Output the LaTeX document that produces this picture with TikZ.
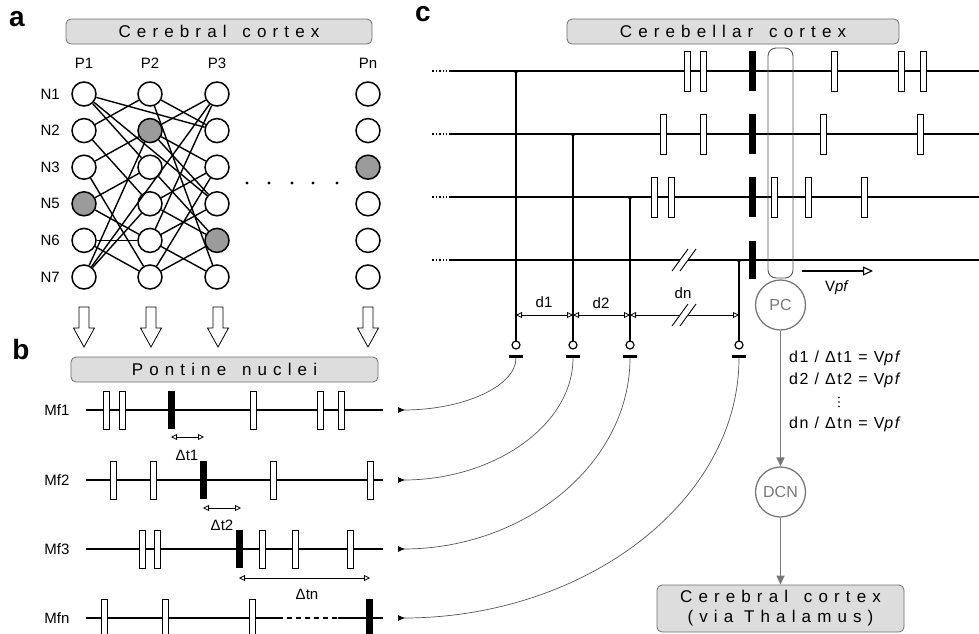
\documentclass[tikz,border=0pt]{standalone}
\usepackage{fontspec}
\setmainfont{Liberation Sans}
\newfontfamily\spacedfont[LetterSpace=36]{Liberation Sans}
\newfontfamily\eqfont[LetterSpace=10]{Liberation Sans}
\usetikzlibrary{shapes,arrows,arrows.meta,positioning,calc}
\definecolor{BoxGray}{RGB}{221,221,221}
\definecolor{EdgeGray}{RGB}{110,110,110}
\definecolor{CellGray}{RGB}{155,155,155}
\definecolor{OutGray}{RGB}{120,120,120}
\definecolor{FibreGray}{RGB}{85,85,85}

\tikzset{
  neuron/.style={circle, draw, line width=1.5pt, minimum size=24pt, inner sep=0pt, fill=white},
  active/.style={neuron, fill=CellGray},
  wire/.style={line width=1.4pt},
  areabox/.style={draw=EdgeGray, fill=BoxGray, rounded corners=5pt, line width=0.8pt,
    inner sep=0pt, font=\spacedfont\fontsize{17}{20}\selectfont},
  cellnode/.style={circle, draw=OutGray, text=OutGray, line width=1.3pt, minimum size=50pt,
    inner sep=0pt, font=\fontsize{16}{18}\selectfont},
  panel/.style={font=\bfseries\fontsize{28}{30}\selectfont},
  lab/.style={font=\fontsize{15}{18}\selectfont},
  eq/.style={font=\eqfont\fontsize{16}{18}\selectfont, inner sep=0pt},
  train/.style={line width=1.1pt},
  pf/.style={line width=1.4pt},
  gap/.style={{Triangle[open,length=6pt,width=6pt]}-{Triangle[open,length=6pt,width=6pt]}, line width=0.8pt},
  mossy/.style={draw=FibreGray, line width=0.7pt, {Latex[reversed,length=7pt,width=6pt,fill=black,color=black]}-},
  outflow/.style={draw=OutGray, line width=1.5pt, -{Triangle[length=9pt,width=8pt]}}
}

% spike rasters: y, half height, list of x
\newcommand{\spiketrain}[3]{%
  \foreach \sx in {#3} \draw[fill=white, line width=0.9pt] (\sx-3,#1-#2) rectangle (\sx+3,#1+#2);}
% burst: y, half height, x
\newcommand{\burst}[3]{\fill (#3-3.5,#1-#2) rectangle (#3+3.5,#1+#2);}
% broken line mark
\newcommand{\fiberbreak}[2]{%
  \fill[white] (#1-4,#2-2) rectangle (#1+4,#2+2);
  \draw[line width=0.9pt] (#1-12,#2+11) -- (#1+4,#2-11);
  \draw[line width=0.9pt] (#1-4,#2+11) -- (#1+12,#2-11);}

\begin{document}
\begin{tikzpicture}[x=1pt, y=-1pt]
  \clip (0,0) rectangle (979,633);

  % Panel letters
  \node[panel] (la) at (17,19) {a};
  \node[panel] (lb) at (21,349) {b};
  \node[panel] (lc) at (423,14) {c};

  %% (a) cerebral cortex
  \node[areabox, minimum width=306pt, minimum height=25pt] (cortex) at (219,31.5) {Cerebral\hspace{5pt} cortex};

  \foreach \c/\cx/\hot in {1/84/4, 2/150/2, 3/217/5, n/368/3} {
    \node[lab] (p\c) at (\cx,63) {P\c};
    \foreach \r/\ry in {1/94, 2/130.6, 3/167.2, 4/203.8, 5/240.4, 6/277} {
      \ifnum\r=\hot \def\kind{active}\else\def\kind{neuron}\fi
      \node[\kind] (p\c n\r) at (\cx,\ry) {};
    }
  }
  \foreach \r/\nm in {1/N1, 2/N2, 3/N3, 4/N5, 5/N6, 6/N7}
    \node[lab, left=8pt of p1n\r] (row\r) {\nm};

  % Connections
  \foreach \u/\v in {p1n1/p2n3, p1n2/p2n1, p1n2/p2n4, p1n3/p2n2, p1n3/p2n6, p1n4/p2n3,
      p1n4/p2n5, p1n5/p2n5, p1n5/p2n6, p1n6/p2n2, p1n6/p2n4, p1n1/p3n2, p1n1/p3n4,
      p1n6/p3n1, p2n1/p3n2, p2n1/p3n6, p2n2/p3n1, p2n5/p3n1, p2n2/p3n3, p2n2/p3n4,
      p2n3/p3n5, p2n4/p3n3, p2n4/p3n5, p2n5/p3n4, p2n5/p3n6, p2n6/p3n3, p2n6/p3n5}
    \draw[wire] (\u) -- (\v);

  \foreach \dx in {247,269,292,313,337} \fill (\dx,183) circle (1.6pt);

  %% (b) pontine nuclei
  \foreach \ax in {84,151,218,368}
    \draw[line width=0.8pt, fill=white] (\ax-5,307) -- (\ax+5,307) -- (\ax+5,328) -- (\ax+10.5,328)
      -- (\ax,347) -- (\ax-10.5,328) -- (\ax-5,328) -- cycle;

  \node[areabox, minimum width=307pt, minimum height=25pt] (pontine) at (224.5,369.5) {Pontine\hspace{5pt} nuclei};

  \foreach \k/\my/\nm in {1/410/Mf1, 2/480/Mf2, 3/549/Mf3, 4/618/Mfn} {
    \node[lab, anchor=east] (mf\k lab) at (73,\my) {\nm};
    \coordinate (mf\k) at (398,\my);
  }
  \draw[train] (86,410) -- (383,410);
  \draw[train] (86,480) -- (383,480);
  \draw[train] (86,549) -- (383,549);
  \draw[train] (86,618) -- (283,618);
  \draw[train, dash pattern=on 5pt off 4pt] (287,618) -- (337,618);
  \draw[train] (338,618) -- (383,618);

  \spiketrain{410}{19}{106,122,253,320,341} \burst{410}{19}{171}
  \spiketrain{480}{19}{113,153,273,370}     \burst{480}{19}{203}
  \spiketrain{549}{19}{142,157,262,295,350} \burst{549}{19}{239}
  \spiketrain{618}{19}{104,165,252}         \burst{618}{19}{369}

  % Delays
  \draw[gap] (171,437) -- (204,437);
  \node[lab] (dt1) at (187,455) {Δt1};
  \draw[gap] (203,508) -- (241,508);
  \node[lab] (dt2) at (222,525) {Δt2};
  \draw[gap] (239,578) -- (370,578);
  \node[lab] (dtn) at (307,594) {Δtn};

  %% (c) cerebellar cortex
  \node[areabox, minimum width=332pt, minimum height=25pt] (cerebellum) at (733,31.5) {Cerebellar\hspace{5pt} cortex};

  % Parallel fibres
  \foreach \py in {71,134,197,260} {
    \draw[line width=1.1pt, dash pattern=on 1.5pt off 2pt] (432,\py) -- (447,\py);
    \draw[pf] (449,\py) -- (979,\py);
  }
  \fiberbreak{684}{260}

  \spiketrain{71}{20}{687,703,834,901,923}  \burst{71}{20}{752}
  \spiketrain{134}{20}{663,703,823,920}     \burst{134}{20}{752}
  \spiketrain{197}{20}{654,671,774,808,864} \burst{197}{20}{752}
  \burst{260}{19}{752}

  % Purkinje cell dendrite
  \draw[draw=FibreGray, line width=0.9pt, rounded corners=8pt] (768,48) rectangle (793,278);

  % Granule cell axons and mossy fibre terminals
  \foreach \k/\fx/\py in {1/516/71, 2/573/134, 3/630/197, 4/739/260} {
    \draw[pf] (\fx,\py) -- (\fx,341);
    \draw[pf] (\fx-6,\py) .. controls (\fx,\py) .. (\fx,\py+7);
    \draw[pf] (\fx+6,\py) .. controls (\fx,\py) .. (\fx,\py+7);
    \draw[line width=1.2pt] (\fx,345) circle (4pt);
    \draw[line width=3pt] (\fx-7,356) -- (\fx+7,356);
    \coordinate (t\k) at (\fx,358);
    \coordinate (g\k) at (\fx,315);
  }

  % Mossy fibres from the pontine nuclei
  \foreach \k in {1,...,4}
    \draw[mossy] let \p1=(mf\k), \p2=(t\k) in
      (\p1) .. controls (\x1+0.55*\x2-0.55*\x1,\y1) and (\x2,\y2+0.55*\y1-0.55*\y2) .. (\p2);

  % Distances along the parallel fibres
  \draw[gap] (g1) -- (g2);
  \draw[gap] (g2) -- (g3);
  \draw[gap] (g3) -- (g4);
  \fiberbreak{684}{315}
  \node[lab] (d1) at (544,302) {d1};
  \node[lab] (d2) at (601,303) {d2};
  \node[lab] (dn) at (683,293) {dn};

  % Conduction velocity
  \coordinate (vs) at (802,271);
  \coordinate (ve) at (873,271);
  \draw[line width=1.1pt, -{Triangle[open,length=10pt,width=9pt]}] (vs) -- (ve);
  \node[lab] (vpf) at (837,288) {V\textit{pf}};

  % Purkinje cell output
  \node[cellnode, fill=white] (pc) at (780.5,305) {PC};
  \node[cellnode] (dcn) at (780.5,492) {DCN};
  \node[areabox, minimum width=247pt, minimum height=47pt, align=center] (thal) at (780.5,608.5)
    {Cerebral\hspace{5pt} cortex\\(via Thalamus)};
  \draw[outflow] (pc) -- (dcn);
  \draw[outflow] (dcn) -- (thal);

  \node[eq, anchor=west] (eq1) at (789,358) {d1 / Δt1 = V\textit{pf}};
  \node[eq, anchor=west] (eq2) at (789,380) {d2 / Δt2 = V\textit{pf}};
  \foreach \vy in {397.5,402,406.5} \fill (839,\vy) circle (0.8pt);
  \node[eq, anchor=west] (eq3) at (789,424) {dn / Δtn = V\textit{pf}};
\end{tikzpicture}
\end{document}
